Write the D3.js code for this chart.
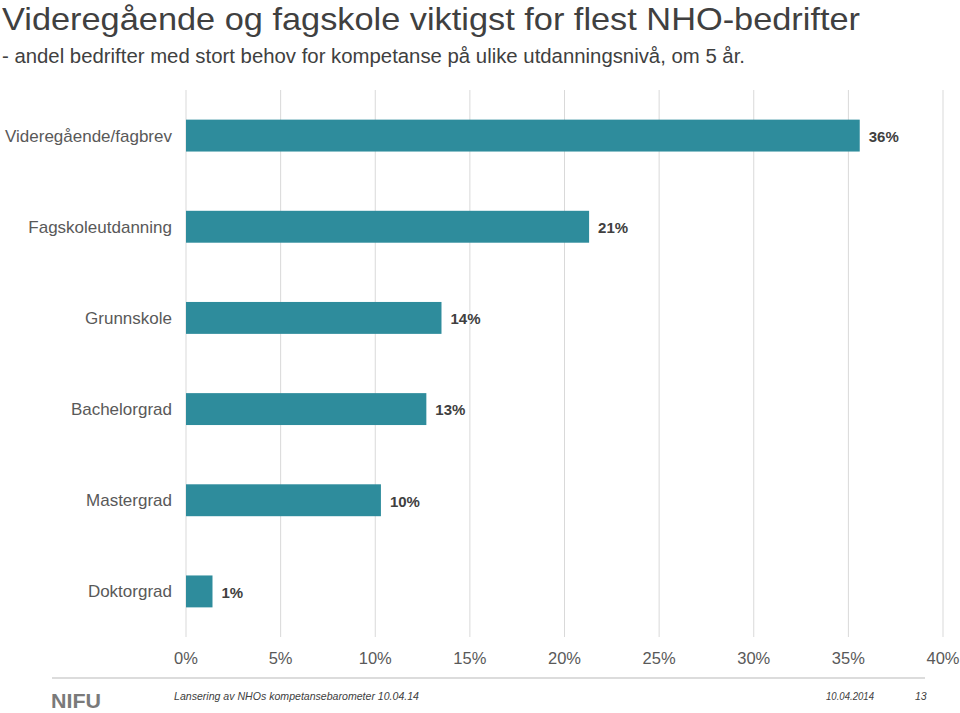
<!DOCTYPE html>
<html><head><meta charset="utf-8">
<script src="https://cdn.jsdelivr.net/npm/d3@7"></script>
<style>body{margin:0;background:#fff;}svg{display:block;font-family:"Liberation Sans",Arial,sans-serif;}</style>
</head><body>
<script>
const categories = ["Videregående/fagbrev","Fagskoleutdanning","Grunnskole","Bachelorgrad","Mastergrad","Doktorgrad"];
const values = [35.6, 21.3, 13.5, 12.7, 10.3, 1.4];
const valueLabels = ["36%","21%","14%","13%","10%","1%"];
const tickValues = [0,5,10,15,20,25,30,35,40];

const W=960,H=713;
const svg=d3.select("body").append("svg").attr("width",W).attr("height",H);

svg.append("text").attr("x",2).attr("y",30).attr("font-size",31.5).attr("fill","#404040")
  .attr("textLength",858).attr("lengthAdjust","spacingAndGlyphs")
  .text("Videregående og fagskole viktigst for flest NHO-bedrifter");
svg.append("text").attr("x",2).attr("y",63).attr("font-size",20.5).attr("fill","#404040")
  .attr("textLength",743).attr("lengthAdjust","spacingAndGlyphs")
  .text("- andel bedrifter med stort behov for kompetanse på ulike utdanningsnivå, om 5 år.");

const x=d3.scaleLinear().domain([0,40]).range([186,943]);
const y=d3.scaleBand().domain(categories).range([90,637]).paddingInner(0.65).paddingOuter(0.325);

svg.append("g").selectAll("line").data(tickValues).join("line")
  .attr("x1",d=>x(d)).attr("x2",d=>x(d)).attr("y1",90).attr("y2",637)
  .attr("stroke","#d9d9d9").attr("stroke-width",1);

svg.append("g").selectAll("rect").data(categories).join("rect")
  .attr("x",x(0)).attr("y",d=>y(d)).attr("height",y.bandwidth())
  .attr("width",(d,i)=>x(values[i])-x(0)).attr("fill","#2e8c9c");

svg.append("g").selectAll("text").data(categories).join("text")
  .attr("x",172).attr("y",d=>y(d)+y.bandwidth()/2).attr("dy","0.35em")
  .attr("text-anchor","end").attr("font-size",17).attr("fill","#595959").text(d=>d);

svg.append("g").selectAll("text").data(categories).join("text")
  .attr("x",(d,i)=>x(values[i])+9).attr("y",d=>y(d)+y.bandwidth()/2+1).attr("dy","0.35em")
  .attr("font-size",15).attr("font-weight","bold").attr("fill","#404040").text((d,i)=>valueLabels[i]);

svg.append("g").selectAll("text").data(tickValues).join("text")
  .attr("x",d=>x(d)).attr("y",664).attr("text-anchor","middle")
  .attr("font-size",16.5).attr("fill","#595959").text(d=>d+"%");

// footer
svg.append("line").attr("x1",52).attr("x2",925).attr("y1",678).attr("y2",678)
  .attr("stroke","#d0d0d0").attr("stroke-width",1.5);
svg.append("text").attr("x",51).attr("y",708).attr("font-size",21).attr("font-weight","bold").attr("fill","#7a7a7a")
  .attr("textLength",50).attr("lengthAdjust","spacingAndGlyphs").text("NIFU");
svg.append("text").attr("x",174).attr("y",700).attr("font-size",10.5).attr("font-style","italic").attr("fill","#404040")
  .attr("textLength",245).attr("lengthAdjust","spacingAndGlyphs")
  .text("Lansering av NHOs kompetansebarometer 10.04.14");
svg.append("text").attr("x",826).attr("y",700).attr("font-size",10.5).attr("font-style","italic").attr("fill","#404040")
  .attr("textLength",48).attr("lengthAdjust","spacingAndGlyphs").text("10.04.2014");
svg.append("text").attr("x",915).attr("y",700).attr("font-size",10.5).attr("font-style","italic").attr("fill","#404040").text("13");
</script>
</body></html>
